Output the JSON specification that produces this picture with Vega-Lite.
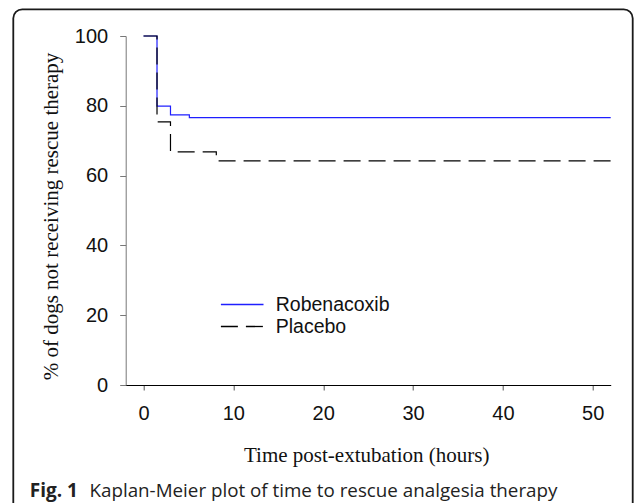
{
  "$schema": "https://vega.github.io/schema/vega-lite/v6.json",
  "width": 489,
  "height": 349,
  "autosize": "none",
  "padding": {"left": 121.7, "top": 36, "right": 23.3, "bottom": 118},
  "background": "white",
  "config": {"view": {"stroke": null}, "axis": {"grid": false}},
  "resolve": {
    "scale": {"x": "independent", "y": "independent"},
    "axis": {"x": "independent", "y": "independent"}
  },
  "layer": [
    {
      "data": {
        "values": [
          {"group": "Robenacoxib", "hours": 0, "pct": 100},
          {"group": "Robenacoxib", "hours": 1.5, "pct": 79.9},
          {"group": "Robenacoxib", "hours": 3.0, "pct": 77.4},
          {"group": "Robenacoxib", "hours": 5.1, "pct": 76.6},
          {"group": "Robenacoxib", "hours": 52, "pct": 76.6},
          {"group": "Placebo", "hours": 0, "pct": 100},
          {"group": "Placebo", "hours": 1.5, "pct": 75.4},
          {"group": "Placebo", "hours": 3.0, "pct": 66.8},
          {"group": "Placebo", "hours": 8.1, "pct": 64.2},
          {"group": "Placebo", "hours": 52, "pct": 64.2}
        ]
      },
      "mark": {"type": "line", "interpolate": "step-after", "strokeWidth": 1.2},
      "encoding": {
        "x": {
          "field": "hours",
          "type": "quantitative",
          "scale": {"domain": [-2.43, 52], "nice": false, "zero": false},
          "axis": {
            "orient": "bottom",
            "values": [0, 10, 20, 30, 40, 50],
            "domainColor": "#000000",
            "domainWidth": 1.2,
            "tickColor": "#555555",
            "tickSize": 5,
            "labelFont": "Liberation Sans",
            "labelFontSize": 20,
            "labelColor": "#111111",
            "labelPadding": 13,
            "labelFlush": false,
            "labelOverlap": false,
            "title": "Time post-extubation (hours)",
            "titleFont": "Liberation Serif",
            "titleFontSize": 21,
            "titleFontWeight": "normal",
            "titleColor": "#111111",
            "titleX": 244.5,
            "titleY": 76,
            "titleAlign": "center",
            "titleBaseline": "alphabetic"
          }
        },
        "y": {
          "field": "pct",
          "type": "quantitative",
          "scale": {"domain": [0, 100], "nice": false},
          "axis": {
            "orient": "left",
            "offset": -4,
            "values": [0, 20, 40, 60, 80, 100],
            "domainColor": "#777777",
            "tickColor": "#777777",
            "tickSize": 6,
            "labelFont": "Liberation Sans",
            "labelFontSize": 20,
            "labelColor": "#111111",
            "labelPadding": 12,
            "labelOverlap": false,
            "title": "% of dogs not receiving rescue therapy",
            "titleFont": "Liberation Serif",
            "titleFontSize": 21,
            "titleFontWeight": "normal",
            "titleColor": "#111111",
            "titleAngle": -90,
            "titleX": -68,
            "titleY": 180,
            "titleAlign": "center",
            "titleBaseline": "alphabetic"
          }
        },
        "color": {
          "field": "group",
          "type": "nominal",
          "scale": {"domain": ["Robenacoxib", "Placebo"], "range": ["#1f1fff", "#000000"]},
          "legend": {
            "orient": "none",
            "legendX": 109,
            "legendY": 257,
            "title": null,
            "symbolType": "M-2,0H2",
            "symbolSize": 454,
            "symbolStrokeWidth": 1.3,
            "labelFont": "Liberation Sans",
            "labelFontSize": 19.5,
            "labelColor": "#111111",
            "labelOffset": 22,
            "rowPadding": 1
          }
        },
        "strokeDash": {
          "field": "group",
          "type": "nominal",
          "scale": {"domain": ["Robenacoxib", "Placebo"], "range": [[1, 0], [17, 8]]},
          "legend": {
            "orient": "none",
            "legendX": 109,
            "legendY": 257,
            "title": null,
            "symbolType": "M-2,0H2",
            "symbolSize": 454,
            "symbolStrokeWidth": 1.3,
            "labelFont": "Liberation Sans",
            "labelFontSize": 19.5,
            "labelColor": "#111111",
            "labelOffset": 22,
            "rowPadding": 1
          }
        }
      }
    },
    {
      "data": {"values": [{}]},
      "mark": {"type": "rect", "filled": false, "stroke": "#1a1a1a", "strokeWidth": 1.8, "cornerRadius": 9},
      "encoding": {
        "x": {
          "datum": -0.2217,
          "type": "quantitative",
          "scale": {"domain": [0, 1], "nice": false, "zero": false},
          "axis": {
            "orient": "top",
            "domain": false,
            "ticks": false,
            "labels": false,
            "title": "Kaplan-Meier plot of time to rescue analgesia therapy",
            "titleFont": "Open Sans",
            "titleFontSize": 18.8,
            "titleFontWeight": "normal",
            "titleColor": "#222222",
            "titleAngle": 0,
            "titleX": -32.7,
            "titleY": 460,
            "titleAlign": "left",
            "titleBaseline": "alphabetic"
          }
        },
        "x2": {"datum": 1.045},
        "y": {
          "datum": 1.0765,
          "type": "quantitative",
          "scale": {"domain": [0, 1], "nice": false, "zero": false},
          "axis": {
            "orient": "right",
            "domain": false,
            "ticks": false,
            "labels": false,
            "title": "Fig. 1",
            "titleFont": "Open Sans",
            "titleFontSize": 19,
            "titleFontWeight": "bold",
            "titleColor": "#222222",
            "titleAngle": 0,
            "titleX": -581.4,
            "titleY": 460,
            "titleAlign": "left",
            "titleBaseline": "alphabetic"
          }
        },
        "y2": {"datum": -0.3725}
      }
    }
  ]
}
